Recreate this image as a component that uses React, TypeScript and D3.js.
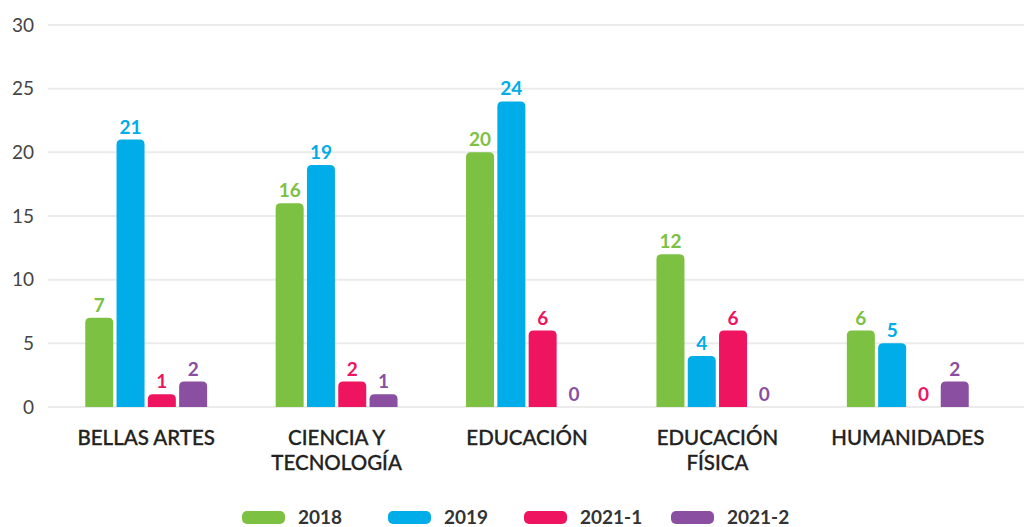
import React from "react";
import * as d3 from "d3";

const categories: string[][] = [
  ["BELLAS ARTES"],
  ["CIENCIA Y", "TECNOLOGÍA"],
  ["EDUCACIÓN"],
  ["EDUCACIÓN", "FÍSICA"],
  ["HUMANIDADES"],
];
const seriesNames = ["2018", "2019", "2021-1", "2021-2"];
const values2018 = [7, 16, 20, 12, 6];
const values2019 = [21, 19, 24, 4, 5];
const values2021_1 = [1, 2, 6, 6, 0];
const values2021_2 = [2, 1, 0, 0, 2];
const colors = ["#7dc142", "#00ade8", "#ee1460", "#8a4fa0"];
const yTicks = [0, 5, 10, 15, 20, 25, 30];

const W = 1024;
const H = 527;
const FONT = "Lato, 'Open Sans', sans-serif";

function topRounded(x: number, y: number, w: number, h: number, r: number) {
  if (h <= 0) return "";
  const rr = Math.min(r, h, w / 2);
  return `M${x},${y + h}V${y + rr}Q${x},${y} ${x + rr},${y}H${x + w - rr}Q${x + w},${y} ${x + w},${y + rr}V${y + h}Z`;
}

export default function App() {
  const series = [values2018, values2019, values2021_1, values2021_2];
  const catKeys = categories.map((c) => c.join(" "));
  const x0 = d3.scaleBand<string>().domain(catKeys).range([51, 1003]).paddingInner(0).paddingOuter(0);
  const step = 31.3;
  const barW = 28;
  const y = d3.scaleLinear().domain([0, 30]).range([407, 25]);

  return (
    <svg width={W} height={H} style={{ position: "absolute", left: 0, top: 0, background: "#fff" }} fontFamily={FONT}>
      {yTicks.map((t) => (
        <g key={t}>
          <line x1={48} x2={W} y1={y(t)} y2={y(t)} stroke="#ebebeb" strokeWidth={2} />
          <text x={34} y={y(t)} dy="0.35em" textAnchor="end" fontSize={19} fill="#444">
            {t}
          </text>
        </g>
      ))}
      {catKeys.map((k, ci) => {
        const cx = (x0(k) as number) + x0.bandwidth() / 2;
        const start = cx - (step * 3 + barW) / 2;
        return (
          <g key={k}>
            {series.map((vals, si) => {
              const v = vals[ci];
              const bx = start + si * step;
              const top = y(v);
              return (
                <g key={si}>
                  <path d={topRounded(bx, top, barW, y(0) - top, 5)} fill={colors[si]} />
                  <text x={bx + barW / 2} y={top - 6} textAnchor="middle" fontSize={19} fontWeight={700} fill={colors[si]}>
                    {v}
                  </text>
                </g>
              );
            })}
            {categories[ci].map((line, li) => (
              <text key={li} x={cx} y={445 + li * 25} textAnchor="middle" fontSize={20.5} fontWeight={500} fill="#222" stroke="#222" strokeWidth={0.3}>
                {line}
              </text>
            ))}
          </g>
        );
      })}
      {seriesNames.map((n, i) => {
        const lx = [242, 388, 524, 671][i];
        return (
          <g key={n}>
            <rect x={lx} y={511} width={43} height={13} rx={5} fill={colors[i]} />
            <text x={lx + 56} y={524} fontSize={19} fontWeight={700} fill="#333">
              {n}
            </text>
          </g>
        );
      })}
    </svg>
  );
}
